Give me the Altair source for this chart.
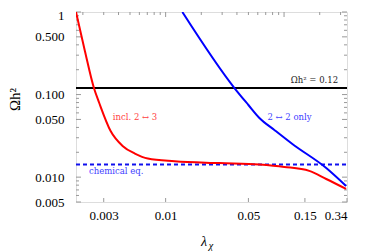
import altair as alt
import pandas as pd

# ---- data ----
red_x = [0.00175, 0.00208, 0.00248, 0.00275, 0.00343, 0.00433, 0.0055, 0.00707, 0.0119, 0.0285, 0.0619, 0.1005, 0.163, 0.227, 0.334]
red_y = [1.0, 0.337, 0.12, 0.0791, 0.0362, 0.0239, 0.0193, 0.0168, 0.0156, 0.0148, 0.0142, 0.0133, 0.0119, 0.0095, 0.0072]
blue_x = [0.01384, 0.0381, 0.05, 0.0619, 0.0828, 0.1175, 0.227, 0.334]
blue_y = [1.0, 0.12, 0.0748, 0.0521, 0.0373, 0.0252, 0.0129, 0.00782]
chem_value = 0.0142
relic_value = 0.12

x_domain = [0.00175, 0.34]
y_domain = [0.005, 1.0]
x_labels = [0.003, 0.01, 0.05, 0.15, 0.34]
y_labels = [0.005, 0.01, 0.05, 0.1, 0.5, 1.0]
y_minor = [0.006, 0.007, 0.008, 0.009, 0.02, 0.03, 0.04, 0.06, 0.07, 0.08, 0.09,
           0.2, 0.3, 0.4, 0.6, 0.7, 0.8, 0.9]
x_top_minor = [0.002, 0.003, 0.004, 0.005, 0.006, 0.007, 0.008, 0.009,
               0.02, 0.03, 0.04, 0.05, 0.06, 0.07, 0.08, 0.09, 0.2, 0.3]
x_top_major = [0.01, 0.1]

W, H = 271, 190
FONT = "Liberation Serif"
ANN = "DejaVu Serif"

xs = alt.Scale(type="log", domain=x_domain, nice=False, zero=False)
ys = alt.Scale(type="log", domain=y_domain, nice=False, zero=False)
xaxis = alt.Axis(values=x_labels, labelExpr="format(datum.value, '~g')", ticks=False, domain=False,
                 grid=False, labelPadding=7, labelFont=FONT, labelFontSize=13, labelColor="black",
                 title=None)
yaxis = alt.Axis(values=y_labels,
                 labelExpr="datum.value == 1 ? '1' : format(datum.value, '.3f')",
                 labelOffset={"condition": {"test": "datum.value >= 1", "value": 3}, "value": 0},
                 ticks=False, domain=False, grid=False, labelPadding=12, labelFont=FONT,
                 labelFontSize=13, labelColor="black", title="Ωh²", titleFont=FONT,
                 titleFontSize=15, titleFontWeight="normal", titleColor="black", titleAngle=-90,
                 titleX=-62, titleY=87, titleAlign="center", titleBaseline="middle")

X = lambda f="x": alt.X(f"{f}:Q", scale=xs, axis=xaxis)
Y = lambda f="y": alt.Y(f"{f}:Q", scale=ys, axis=yaxis)

red = pd.DataFrame({"x": red_x, "y": red_y})
blue = pd.DataFrame({"x": blue_x, "y": blue_y})
chem = pd.DataFrame({"x": x_domain, "y": [chem_value, chem_value]})
relic = pd.DataFrame({"x": x_domain, "y": [relic_value, relic_value]})

chem_line = alt.Chart(chem).mark_line(color="#1010ee", strokeWidth=2, strokeDash=[4, 3]).encode(x=X(), y=Y())
relic_line = alt.Chart(relic).mark_line(color="black", strokeWidth=2).encode(x=X(), y=Y())
blue_line = alt.Chart(blue).mark_line(color="#0000ff", strokeWidth=2, clip=True,
                                      interpolate="monotone").encode(x=X(), y=Y())
red_line = alt.Chart(red).mark_line(color="#ff0000", strokeWidth=2, clip=True,
                                    interpolate="monotone").encode(x=X(), y=Y())

ann = pd.DataFrame({
    "x": [0.00358, 0.0723, 0.00225, 0.286],
    "y": [0.0535, 0.0535, 0.0119, 0.150],
    "t": ["incl. 2 ↔ 3", "2 ↔ 2 only", "chemical eq.", "Ωh² = 0.12"],
    "c": ["#ff4040", "#4040ff", "#4040ff", "#222222"],
    "a": ["left", "left", "left", "right"],
})
texts = []
for i, r in ann.iterrows():
    texts.append(alt.Chart(ann.iloc[[i]]).mark_text(font=ANN, fontSize=8.5, color=r["c"], align=r["a"],
                                                     baseline="middle").encode(x=X(), y=Y(), text="t:N"))

# inward ticks
ymaj = pd.DataFrame({"y": y_labels})
ymin = pd.DataFrame({"y": y_minor})
tick_col = "#999999"
ticks = [
    alt.Chart(ymaj).mark_rule(color=tick_col).encode(y=Y(), x=alt.value(0), x2=alt.value(5)),
    alt.Chart(ymin).mark_rule(color=tick_col).encode(y=Y(), x=alt.value(0), x2=alt.value(3)),
    alt.Chart(ymaj).mark_rule(color=tick_col).encode(y=Y(), x=alt.value(W - 5), x2=alt.value(W)),
    alt.Chart(ymin).mark_rule(color=tick_col).encode(y=Y(), x=alt.value(W - 3), x2=alt.value(W)),
    alt.Chart(pd.DataFrame({"x": x_top_major})).mark_rule(color=tick_col).encode(x=X(), y=alt.value(0), y2=alt.value(5)),
    alt.Chart(pd.DataFrame({"x": x_top_minor})).mark_rule(color=tick_col).encode(x=X(), y=alt.value(0), y2=alt.value(3)),
    alt.Chart(pd.DataFrame({"x": x_labels})).mark_rule(color=tick_col).encode(x=X(), y=alt.value(H - 4), y2=alt.value(H)),
]

xtitle = [
    alt.Chart(pd.DataFrame({"t": ["λ"]})).mark_text(font=FONT, fontSize=14, fontStyle="italic", color="black",
                                                    align="center", baseline="middle").encode(
        x=alt.value(128), y=alt.value(230), text="t:N"),
    alt.Chart(pd.DataFrame({"t": ["χ"]})).mark_text(font=FONT, fontSize=10, fontStyle="italic", color="black",
                                                    align="center", baseline="middle").encode(
        x=alt.value(135), y=alt.value(234), text="t:N"),
]

chart = alt.layer(*ticks, chem_line, relic_line, blue_line, red_line, *texts, *xtitle).properties(
    width=W, height=H,
    autosize=alt.AutoSizeParams(type="none"),
    padding={"left": 68, "top": 4, "right": 10, "bottom": 52},
).configure_view(stroke="#888888", strokeWidth=1).configure(background="white")

chart.save("out.html", embed_options={"renderer": "svg", "actions": False})
